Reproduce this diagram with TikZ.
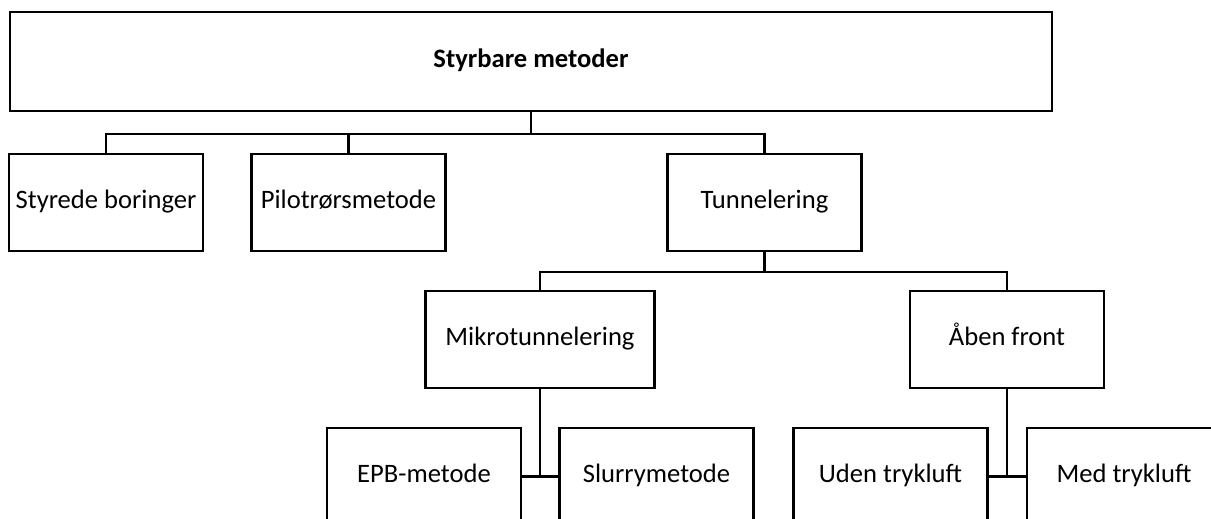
\documentclass[tikz,border=0pt]{standalone}
\usepackage{fontspec}
\setmainfont{Carlito}
\tikzset{
  box/.style={draw, line width=2.8pt, minimum width=194pt, minimum height=97pt, inner sep=0pt, align=center, text height=1.45em, text depth=0.2em, font=\fontsize{26.6}{32}\selectfont},
  link/.style={line width=2.8pt}
}
\begin{document}
\begin{tikzpicture}[x=1pt,y=-1pt]
\clip (0,0) rectangle (1211,519);
\fill[white] (0,0) rectangle (1211,519);
%top level
\node (top) at (531,61.5) [box, minimum width=1042pt, minimum height=99pt] {\textbf{Styrbare metoder}};

%second row
\node (styr) at (106,202.5) [box] {Styrede boringer};
\node (pilot) at (348.5,202.5) [box] {Pilotrørsmetode};
\node (tunnel) at (764.5,202.5) [box] {Tunnelering};
\coordinate (bus1) at (531,134);
\draw[link] (top.south) -- (bus1);
\draw[link] (styr.north) |- (bus1);
\draw[link] (pilot.north) |- (bus1);
\draw[link] (tunnel.north) |- (bus1);

%third row
\node (mikro) at (540,339.5) [box, minimum width=229pt] {Mikrotunnelering};
\node (aaben) at (1007,339.5) [box] {Åben front};
\coordinate (bus2) at (764.5,272);
\draw[link] (tunnel.south) -- (bus2);
\draw[link] (mikro.north) |- (bus2);
\draw[link] (aaben.north) |- (bus2);

%bottom row
\node (epb) at (424,476.5) [box] {EPB-metode};
\node (slurry) at (656.5,476.5) [box] {Slurrymetode};
\node (uden) at (890.5,476.5) [box] {Uden trykluft};
\node (med) at (1124,476.5) [box] {Med trykluft};
\draw[link] (epb.east) -- (slurry.west);
\draw[link] (mikro.south) -- (mikro.south |- epb.east);
\draw[link] (uden.east) -- (med.west);
\draw[link] (aaben.south) -- (aaben.south |- uden.east);
\end{tikzpicture}
\end{document}
